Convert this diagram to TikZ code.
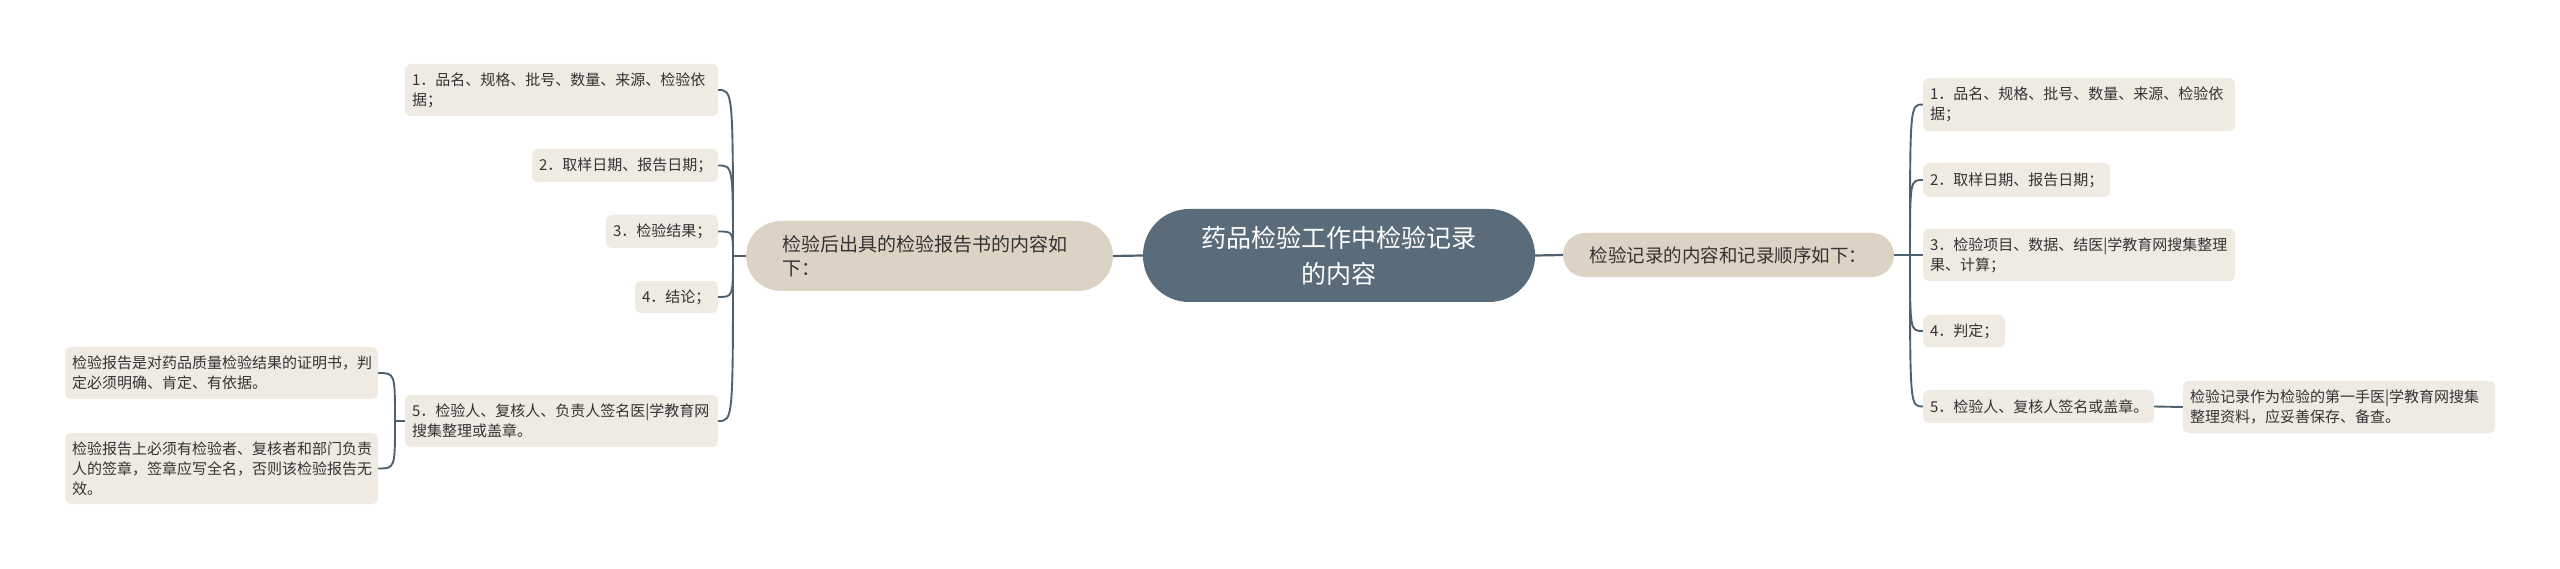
\documentclass[tikz,border=0pt]{standalone}
\usepackage{fontspec}
\setmainfont{Noto Sans CJK SC}
\definecolor{rootfill}{HTML}{5A6C79}
\definecolor{mainfill}{HTML}{DDD3C4}
\definecolor{leaffill}{HTML}{EFEBE3}
\definecolor{linec}{HTML}{4D6170}
\definecolor{txt}{HTML}{333333}
\tikzset{
  rootbox/.style={fill=rootfill, text=white, rounded corners=46pt, minimum width=392pt, minimum height=93pt, inner sep=0pt, align=center, font=\fontsize{25}{36}\selectfont},
  mainbox/.style={fill=mainfill, text=txt, inner ysep=0pt, font=\fontsize{18.5}{25}\selectfont},
  leafbox/.style={fill=leaffill, text=txt, rounded corners=6pt, inner xsep=7pt, inner ysep=0pt, align=left, font=\fontsize{15}{20}\selectfont},
  conn/.style={draw=linec, line width=2.2pt},
  thinconn/.style={draw=linec, line width=1.9pt},
}
\newcommand{\leaf}[6]{\node[leafbox, text width=#4pt-14pt, minimum height=#5pt] (#1) at (#2,#3) {#6};}
\begin{document}
\begin{tikzpicture}[x=1pt,y=-1pt]
\useasboundingbox (0,0) rectangle (2560,569);
% root
\node[rootbox] (root) at (1339,255.5) {药品检验工作中检验记录\\的内容};
% main branches
\node[mainbox, rounded corners=35pt, minimum height=70pt, text width=295pt, inner xsep=36pt, align=left, font=\fontsize{19}{24}\selectfont] (lm) at (929.5,256) {检验后出具的检验报告书的内容如\\下：};
\node[mainbox, rounded corners=22pt, minimum height=44pt, minimum width=331pt, inner xsep=0pt, align=center] (rm) at (1728.5,255) {检验记录的内容和记录顺序如下：};
% left leaves
\leaf{l1}{561.5}{90}{313}{52}{1．品名、规格、批号、数量、来源、检验依\\据；}
\leaf{l2}{625}{165.5}{186}{33}{2．取样日期、报告日期；}
\leaf{l3}{662}{231.5}{112}{33}{3．检验结果；}
\leaf{l4}{676.5}{297}{83}{32}{4．结论；}
\leaf{l5}{561.5}{421}{313}{52}{5．检验人、复核人、负责人签名医|学教育网\\搜集整理或盖章。}
\leaf{la}{221.5}{373}{313}{52}{检验报告是对药品质量检验结果的证明书，判\\定必须明确、肯定、有依据。}
\leaf{lb}{221.5}{468.5}{313}{71}{检验报告上必须有检验者、复核者和部门负责\\人的签章，签章应写全名，否则该检验报告无\\效。}
% right leaves
\leaf{r1}{2079}{104.5}{312}{53}{1．品名、规格、批号、数量、来源、检验依\\据；}
\leaf{r2}{2016.5}{180}{187}{34}{2．取样日期、报告日期；}
\leaf{r3}{2079}{255}{312}{52}{3．检验项目、数据、结医|学教育网搜集整理\\果、计算；}
\leaf{r4}{1964}{331}{82}{32}{4．判定；}
\leaf{r5}{2038.5}{406.5}{231}{33}{5．检验人、复核人签名或盖章。}
\leaf{rs}{2339}{407}{312}{52}{检验记录作为检验的第一手医|学教育网搜集\\整理资料，应妥善保存、备查。}
% junctions
\coordinate (jl) at (733,256);
\coordinate (js) at (395,421);
\coordinate (jr) at (1910,255);
% root connectors
\draw[conn] (root.west) -- (lm.east);
\draw[conn] (root.east) -- (rm.east -| rm.west);
\draw[conn] (lm.west) -- (jl);
\draw[conn] (rm.east) -- (jr);
% left curves
\foreach \n in {l1,l2,l3,l4,l5}{
  \draw[thinconn] (jl) .. controls (jl |- \n.east) and (jl |- \n.east) .. (\n.east);
}
\draw[thinconn] (l5.west) -- (js);
\foreach \n in {la,lb}{
  \draw[thinconn] (js) .. controls (js |- \n.east) and (js |- \n.east) .. (\n.east);
}
% right curves
\foreach \n in {r1,r2,r4,r5}{
  \draw[thinconn] (jr) .. controls (jr |- \n.west) and (jr |- \n.west) .. (\n.west);
}
\draw[thinconn] (jr) -- (r3.west);
\draw[thinconn] (r5.east) -- (rs.west);
\end{tikzpicture}
\end{document}
